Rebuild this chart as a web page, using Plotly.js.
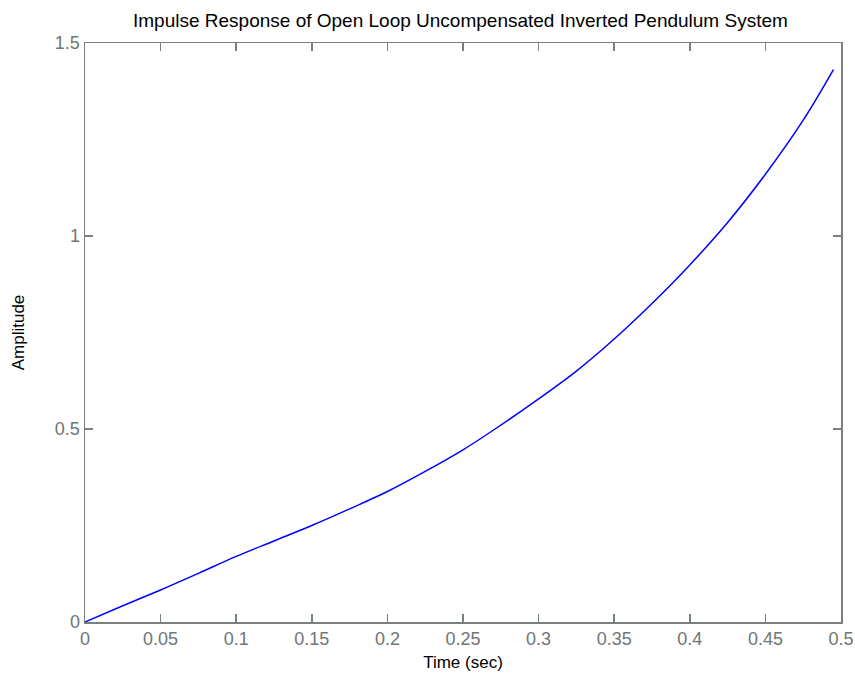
<!DOCTYPE html>
<html>
<head>
<meta charset="utf-8">
<script src="https://cdn.plot.ly/plotly-3.0.1.min.js"></script>
<style>html,body{margin:0;padding:0;background:#fff;}#chart{width:855px;height:684px;}</style>
</head>
<body>
<div id="chart"></div>
<script>
const timeSec = [0, 0.025, 0.05, 0.075, 0.1, 0.125, 0.15, 0.175, 0.2, 0.225, 0.25, 0.275, 0.3, 0.325, 0.35, 0.375, 0.4, 0.425, 0.45, 0.475, 0.495];
const amplitude = [0, 0.042, 0.083, 0.126, 0.170, 0.210, 0.250, 0.293, 0.338, 0.390, 0.446, 0.510, 0.578, 0.650, 0.733, 0.825, 0.925, 1.035, 1.160, 1.300, 1.431];
const xTickVals = [0, 0.05, 0.1, 0.15, 0.2, 0.25, 0.3, 0.35, 0.4, 0.45, 0.5];
const xTickText = ['0', '0.05', '0.1', '0.15', '0.2', '0.25', '0.3', '0.35', '0.4', '0.45', '0.5'];
const yTickVals = [0, 0.5, 1, 1.5];
const yTickText = ['0', '0.5', '1', '1.5'];

const axisColor = '#7a7f7f';
const font = 'Liberation Sans, Arial, sans-serif';

const data = [{
  x: timeSec, y: amplitude, type: 'scatter', mode: 'lines',
  line: {color: '#0000ff', width: 1.5, shape: 'spline', smoothing: 1},
  showlegend: false, hoverinfo: 'skip'
}];

const layout = {
  width: 855, height: 684,
  margin: {l: 85, r: 14, t: 43, b: 62},
  paper_bgcolor: '#ffffff', plot_bgcolor: '#ffffff',
  font: {family: font, size: 17, color: '#000'},
  title: {text: 'Impulse Response of Open Loop Uncompensated Inverted Pendulum System',
          font: {family: font, size: 19, color: '#000'}, x: 0.5385, xanchor: 'center', y: 0.97, yanchor: 'middle'},
  xaxis: {
    range: [0, 0.5], tickvals: xTickVals, ticktext: xTickText,
    showgrid: false, zeroline: false, showline: true, linecolor: axisColor, linewidth: 1.5,
    mirror: 'allticks', ticks: 'inside', ticklen: 8, tickwidth: 1.5, tickcolor: axisColor,
    tickfont: {family: font, size: 18, color: '#707575'},
    title: {text: 'Time (sec)', font: {family: font, size: 17, color: '#000'}, standoff: 8}
  },
  yaxis: {
    range: [0, 1.5], tickvals: yTickVals, ticktext: yTickText,
    showgrid: false, zeroline: false, showline: true, linecolor: axisColor, linewidth: 1.5,
    mirror: 'allticks', ticks: 'inside', ticklen: 8, tickwidth: 1.5, tickcolor: axisColor,
    tickfont: {family: font, size: 18, color: '#707575'},
    title: {text: 'Amplitude', font: {family: font, size: 17, color: '#000'}, standoff: 26}
  }
};

Plotly.newPlot('chart', data, layout, {displayModeBar: false, staticPlot: true});
</script>
</body>
</html>
